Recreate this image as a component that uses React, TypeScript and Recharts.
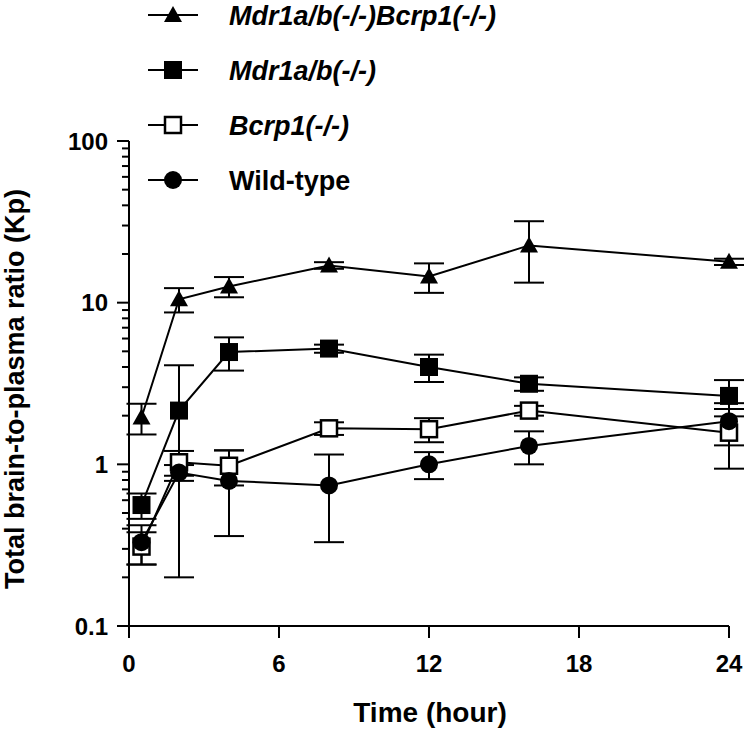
import React from "react";
import {
  ErrorBar,
  Legend,
  Line,
  LineChart,
  XAxis,
  YAxis,
} from "recharts";

// sampling times (hour)
const times = [0.5, 2, 4, 8, 12, 16, 24];

// Kp means and SD per genotype
const tkoMean = [1.95, 10.5, 12.6, 17.0, 14.5, 22.6, 17.9];
const tkoSd = [0.42, 1.8, 1.8, 0.8, 3.0, 9.3, 0.8];
const mdrMean = [0.56, 2.15, 4.95, 5.2, 4.0, 3.15, 2.65];
const mdrSd = [0.1, 1.95, 1.15, 0.3, 0.77, 0.3, 0.67];
const bcrpMean = [0.31, 1.03, 0.98, 1.67, 1.65, 2.15, 1.57];
const bcrpSd = [0.07, 0.18, 0.24, 0.15, 0.28, 0.15, 0.63];
const wtMean = [0.33, 0.89, 0.79, 0.74, 1.0, 1.3, 1.85];
const wtSd = [0.09, 0.1, 0.43, 0.41, 0.19, 0.3, 0.54];

const xTicks = [0, 6, 12, 18, 24];
const yTicks = [
  0.1, 0.2, 0.3, 0.4, 0.5, 0.6, 0.7, 0.8, 0.9,
  1, 2, 3, 4, 5, 6, 7, 8, 9,
  10, 20, 30, 40, 50, 60, 70, 80, 90,
  100,
];
const yMajor = [0.1, 1, 10, 100];

const FONT = '"Liberation Sans", Arial, sans-serif';

type Shape = "triangle" | "square" | "openSquare" | "circle";

const series: Array<{ key: string; name: string; shape: Shape; italic: boolean }> = [
  { key: "tko", name: "Mdr1a/b(-/-)Bcrp1(-/-)", shape: "triangle", italic: true },
  { key: "mdr", name: "Mdr1a/b(-/-)", shape: "square", italic: true },
  { key: "bcrp", name: "Bcrp1(-/-)", shape: "openSquare", italic: true },
  { key: "wt", name: "Wild-type", shape: "circle", italic: false },
];

const data = times.map((t, i) => ({
  t,
  tko: tkoMean[i],
  tkoSd: tkoSd[i],
  mdr: mdrMean[i],
  mdrSd: mdrSd[i],
  bcrp: bcrpMean[i],
  bcrpSd: bcrpSd[i],
  wt: wtMean[i],
  wtSd: wtSd[i],
}));

function Marker({ shape, cx, cy }: { shape: Shape; cx: number; cy: number }) {
  if (shape === "triangle") {
    return (
      <polygon
        points={`${cx},${cy - 9} ${cx + 9},${cy + 7} ${cx - 9},${cy + 7}`}
        fill="#000"
      />
    );
  }
  if (shape === "square") {
    return <rect x={cx - 9} y={cy - 9} width={18} height={18} fill="#000" />;
  }
  if (shape === "openSquare") {
    return (
      <rect
        x={cx - 8}
        y={cy - 8}
        width={16}
        height={16}
        fill="#fff"
        stroke="#000"
        strokeWidth={2.5}
      />
    );
  }
  return <circle cx={cx} cy={cy} r={9} fill="#000" />;
}

function YTick(props: any) {
  const { x, y, payload } = props;
  const major = yMajor.includes(payload.value);
  return (
    <g>
      <line x1={x - (major ? 12 : 7)} x2={x} y1={y} y2={y} stroke="#000" strokeWidth={2} />
      {major && (
        <text
          x={x - 21}
          y={y + 8.5}
          textAnchor="end"
          fontFamily={FONT}
          fontWeight="bold"
          fontSize={24}
          fill="#000"
        >
          {payload.value}
        </text>
      )}
    </g>
  );
}

function XTick(props: any) {
  const { x, y, payload } = props;
  return (
    <g>
      <line x1={x} x2={x} y1={y} y2={y + 12} stroke="#000" strokeWidth={2} />
      <text
        x={x}
        y={y + 46}
        textAnchor="middle"
        fontFamily={FONT}
        fontWeight="bold"
        fontSize={24}
        fill="#000"
      >
        {payload.value}
      </text>
    </g>
  );
}

function YTitle() {
  return (
    <text
      x={24}
      y={389}
      transform="rotate(-90, 24, 389)"
      textAnchor="middle"
      fontFamily={FONT}
      fontWeight="bold"
      fontSize={27}
      fill="#000"
    >
      Total brain-to-plasma ratio (Kp)
    </text>
  );
}

function XTitle() {
  return (
    <text
      x={430}
      y={722}
      textAnchor="middle"
      fontFamily={FONT}
      fontWeight="bold"
      fontSize={28}
      fill="#000"
    >
      Time (hour)
    </text>
  );
}

// legend keeps the plotting order of the series, not the sorted payload
function LegendBox(props: any) {
  const items = props.payload || [];
  return (
    <svg width={600} height={200} style={{ display: "block" }}>
      {series.map((s, i) => {
        const item = items.find((d: any) => d.dataKey === s.key);
        const cy = 15 + i * 55;
        return (
          <g key={s.key}>
            <line x1={148} x2={198} y1={cy} y2={cy} stroke="#000" strokeWidth={2} />
            <Marker shape={s.shape} cx={173} cy={cy} />
            <text
              x={229}
              y={cy + 9.5}
              fontFamily={FONT}
              fontWeight="bold"
              fontStyle={s.italic ? "italic" : "normal"}
              fontSize={27}
              fill="#000"
            >
              {item ? item.value : s.name}
            </text>
          </g>
        );
      })}
    </svg>
  );
}

export default function App() {
  return (
    <div style={{ position: "absolute", left: 0, top: 0, background: "#fff" }}>
      <LineChart
        width={744}
        height={730}
        data={data}
        margin={{ top: 141, right: 15, bottom: 44, left: 49 }}
      >
        <XAxis
          type="number"
          dataKey="t"
          domain={[0, 24]}
          ticks={xTicks}
          interval={0}
          height={60}
          stroke="#000"
          strokeWidth={2}
          tickLine={false}
          tickSize={0}
          tickMargin={0}
          tick={<XTick />}
          label={<XTitle />}
        />
        <YAxis
          scale="log"
          type="number"
          domain={[0.1, 100]}
          allowDataOverflow
          ticks={yTicks}
          interval={0}
          width={80}
          stroke="#000"
          strokeWidth={2}
          tickLine={false}
          tickSize={0}
          tickMargin={0}
          tick={<YTick />}
          label={<YTitle />}
        />
        <Legend
          layout="vertical"
          align="center"
          verticalAlign="middle"
          content={<LegendBox />}
          wrapperStyle={{ position: "absolute", left: 0, top: 0, width: 600, height: 200 }}
        />
        {series.map((s) => (
          <Line
            key={s.key}
            dataKey={s.key}
            name={s.name}
            type="linear"
            stroke="#000"
            strokeWidth={2}
            isAnimationActive={false}
            activeDot={false}
            dot={(p: any) => (
              <Marker key={`${s.key}-${p.index}`} shape={s.shape} cx={p.cx} cy={p.cy} />
            )}
          >
            <ErrorBar
              dataKey={`${s.key}Sd`}
              direction="y"
              width={15}
              stroke="#000"
              strokeWidth={2}
              isAnimationActive={false}
            />
          </Line>
        ))}
      </LineChart>
    </div>
  );
}
